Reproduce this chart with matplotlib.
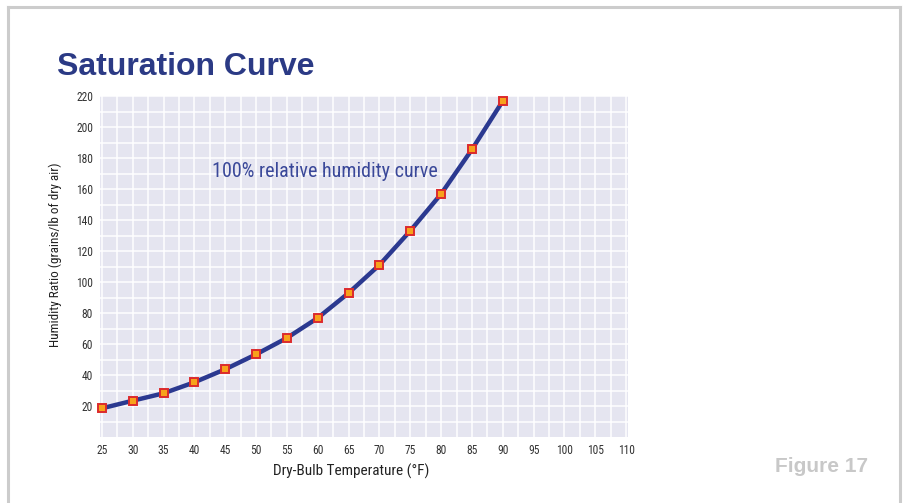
import matplotlib
matplotlib.use("Agg")
import matplotlib.pyplot as plt
from matplotlib.lines import Line2D
import numpy as np

# Data
temps = [25, 30, 35, 40, 45, 50, 55, 60, 65, 70, 75, 80, 85, 90]
humidity = [18.5, 23.4, 28.2, 35.3, 43.7, 53.3, 63.9, 76.8, 92.9, 111.0, 133.0, 156.8, 185.5, 216.8]
xticks = list(range(25, 111, 5))
yticks = list(range(20, 221, 20))

W, H = 906, 503
fig = plt.figure(figsize=(W / 100, H / 100), dpi=100)
fig.patch.set_facecolor("white")

narrow = ["Roboto Condensed", "Liberation Sans", "DejaVu Sans"]

ax = fig.add_axes([100 / W, 1 - 437 / H, 528 / W, 341 / H])
ax.set_facecolor("#e5e5f0")
ax.set_xlim(24.7, 110.3)
ax.set_ylim(0, 220)

# grid
for gx in np.arange(25, 110.01, 2.5):
    ax.axvline(gx, color="white", lw=1.1, zorder=1)
for gy in np.arange(10, 220.01, 10):
    ax.axhline(gy, color="white", lw=1.1, zorder=1)

for s in ax.spines.values():
    s.set_visible(False)

ax.set_xticks(xticks)
ax.set_yticks(yticks)
ax.tick_params(length=0, pad=5, labelsize=8.3, labelcolor="#333333")
for lab in ax.get_xticklabels() + ax.get_yticklabels():
    lab.set_family(narrow)

ax.plot(temps, humidity, color="#2b3990", lw=3.2, zorder=3,
        solid_joinstyle="round", solid_capstyle="round", clip_on=False)
ax.plot(temps, humidity, ls="none", marker="s", ms=5.8, mfc="#f7a21b",
        mec="#dc2a2c", mew=1.4, zorder=4, clip_on=False)

ax.text(42.9, 171, "100% relative humidity curve", color="#3a4899",
        fontsize=14.5, family=narrow, ha="left", va="center", zorder=5)

ax.set_xlabel("Dry-Bulb Temperature (°F)", fontsize=11, family=narrow,
              color="#222222", va="center")
ax.xaxis.set_label_coords(0.475, -0.0997)
ax.set_ylabel("Humidity Ratio (grains/lb of dry air)", fontsize=9.5,
              family=narrow, color="#222222", va="center")
ax.yaxis.set_label_coords(-0.0852, 0.534)

fig.text(57 / W, 1 - 67 / H, "Saturation Curve", fontsize=23, fontweight="bold",
         family=["Liberation Sans", "DejaVu Sans"], color="#2b3a85",
         ha="left", va="center")
fig.text(868 / W, 1 - 467 / H, "Figure 17", fontsize=15, fontweight="bold",
         family=["Liberation Sans", "DejaVu Sans"], color="#c8c8c8",
         ha="right", va="center")

# border
bc = "#cccccc"
lw = 2.2
fig.add_artist(Line2D([8 / W, 8 / W], [0, 1 - 7 / H], color=bc, lw=lw, transform=fig.transFigure))
fig.add_artist(Line2D([8 / W, 900 / W], [1 - 7 / H, 1 - 7 / H], color=bc, lw=lw, transform=fig.transFigure))
fig.add_artist(Line2D([900 / W, 900 / W], [0, 1 - 7 / H], color=bc, lw=lw, transform=fig.transFigure))

fig.savefig("out.png", dpi=100, facecolor="white")
